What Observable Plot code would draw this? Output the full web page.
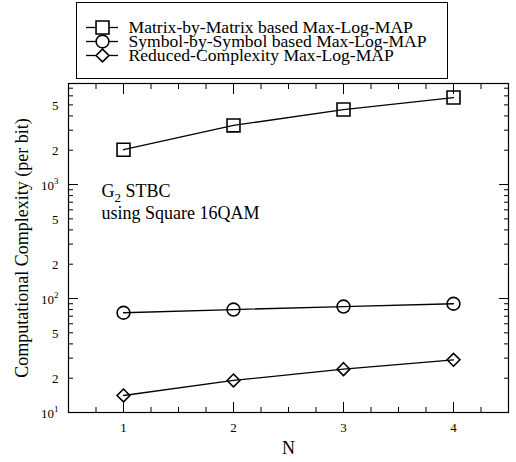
<!DOCTYPE html>
<html>
<head>
<meta charset="utf-8">
<script src="https://cdn.jsdelivr.net/npm/d3@7"></script>
<script src="https://cdn.jsdelivr.net/npm/@observablehq/plot@0.6"></script>
<style>
  html, body { margin: 0; padding: 0; background: #fff; }
  #wrap { position: relative; width: 516px; height: 462px; font-family: "Liberation Serif", "Times New Roman", serif; }
  #legend { position: absolute; left: 76px; top: 2px; width: 372px; height: 77px; border: 1px solid #000; box-sizing: border-box; background: #fff; }
  #chart { position: absolute; left: 0; top: 0; }
  svg { overflow: visible; }
</style>
</head>
<body>
<div id="wrap"><div id="chart"></div><div id="legend"></div></div>
<script>
// ---- data ----
const N = [1, 2, 3, 4];
const matrixByMatrix = [2020, 3300, 4550, 5800];
const symbolBySymbol = [75, 80, 85, 90];
const reducedComplexity = [14.1, 19.1, 24, 29];
const seriesNames = [
  "Matrix-by-Matrix based Max-Log-MAP",
  "Symbol-by-Symbol based Max-Log-MAP",
  "Reduced-Complexity Max-Log-MAP"
];
const seriesSymbols = ["square", "circle", "diamond2"];
const xMajorTicks = [1, 2, 3, 4];
const xMinorTicks = [0.75, 1.25, 1.5, 1.75, 2.25, 2.5, 2.75, 3.25, 3.5, 3.75, 4.25];
const yMajorTicks = [10, 100, 1000];
const yMinorTicks = [20, 30, 40, 50, 60, 70, 80, 90, 200, 300, 400, 500, 600, 700, 800, 900, 2000, 3000, 4000, 5000, 6000, 7000];
const yLabelTicks = [10, 20, 50, 100, 200, 500, 1000, 2000, 5000];
const yLabelText = ["10^1", "2", "5", "10^2", "2", "5", "10^3", "2", "5"];
const xLabel = "N";
const yLabel = "Computational Complexity (per bit)";
const annotationLines = ["G_2 STBC", "using Square 16QAM"];
const annotationN = 0.8;
const annotationValue = 720;

// ---- build rows ----
const seriesValues = [matrixByMatrix, symbolBySymbol, reducedComplexity];
const rows = seriesNames.flatMap((s, k) => N.map((n, i) => ({series: s, N: n, v: seriesValues[k][i]})));
const symbolR = {square: 7.3, circle: 6.4, diamond2: 5.8};

const FONT = '"Liberation Serif", "Times New Roman", serif';

const chart = Plot.plot({
  width: 516,
  height: 462,
  marginLeft: 68,
  marginRight: 8,
  marginTop: 83,
  marginBottom: 50,
  style: {fontFamily: FONT, fontSize: "13px", color: "#000", background: "transparent"},
  x: {domain: [0.5, 4.5]},
  y: {type: "log", domain: [10, 7700]},
  marks: [
    // inward ticks
    Plot.axisX(xMajorTicks, {anchor: "bottom", tickSize: -10, fill: "none", label: null, strokeWidth: 1}),
    Plot.axisX(xMinorTicks, {anchor: "bottom", tickSize: -5, fill: "none", label: null, strokeWidth: 1}),
    Plot.axisX(xMajorTicks, {anchor: "top", tickSize: -10, fill: "none", label: null, strokeWidth: 1}),
    Plot.axisX(xMinorTicks, {anchor: "top", tickSize: -5, fill: "none", label: null, strokeWidth: 1}),
    Plot.axisY(yMajorTicks, {anchor: "left", tickSize: -10, fill: "none", label: null, strokeWidth: 1}),
    Plot.axisY(yMinorTicks, {anchor: "left", tickSize: -5, fill: "none", label: null, strokeWidth: 1}),
    Plot.axisY(yMajorTicks, {anchor: "right", tickSize: -10, fill: "none", label: null, strokeWidth: 1}),
    Plot.axisY(yMinorTicks, {anchor: "right", tickSize: -5, fill: "none", label: null, strokeWidth: 1}),
    // tick labels
    Plot.text(xMajorTicks, {x: d => d, frameAnchor: "bottom", lineAnchor: "top", dy: 10, text: d => String(d), fontSize: 13, fill: "#000"}),
    Plot.text(yLabelTicks, {y: d => d, frameAnchor: "left", textAnchor: "end", dx: -10, dy: 1,
      text: (d, i) => yLabelText[i], fontSize: 13, fill: "#000", className: "ylab"}),
    Plot.frame({stroke: "#000", strokeWidth: 1.2}),
    // data
    Plot.line(rows, {x: "N", y: "v", z: "series", stroke: "#000", strokeWidth: 1.3}),
    ...seriesNames.map((s, k) => Plot.dot(rows.filter(d => d.series === s), {
      x: "N", y: "v", symbol: seriesSymbols[k], r: symbolR[seriesSymbols[k]],
      stroke: "#000", fill: "none", strokeWidth: 1.6
    })),
    // annotation
    Plot.text([annotationLines.join("\n")], {x: () => annotationN, y: () => annotationValue, textAnchor: "start",
      fontSize: 18, lineHeight: 1.2, fill: "#000", className: "annot"}),
    // axis titles
    Plot.text([yLabel], {frameAnchor: "left", textAnchor: "middle", lineAnchor: "middle", rotate: -90, dx: -46, fontSize: 18, fill: "#000"}),
    Plot.text([xLabel], {frameAnchor: "bottom", textAnchor: "middle", lineAnchor: "middle", dy: 36, fontSize: 18, fill: "#000"})
  ]
});

// render "a^b" as superscript and "a_b" as subscript using tspans
function richText(node, str, size) {
  const m = str.match(/^(.*?)([\^_])(\d)(.*)$/);
  if (!m) return;
  const [, pre, kind, digit, post] = m;
  const shift = kind === "^" ? -0.42 * size : 0.28 * size;
  const sel = d3.select(node);
  sel.text(null);
  sel.append("tspan").text(pre);
  sel.append("tspan").attr("dy", shift).attr("font-size", Math.round(size * 0.7)).text(digit);
  if (post) sel.append("tspan").attr("dy", -shift).text(post);
}
d3.select(chart).selectAll(".ylab text").each(function () { richText(this, this.textContent, 13); });
d3.select(chart).selectAll(".annot tspan").each(function () { richText(this, this.textContent, 18); });

document.getElementById("chart").appendChild(chart);

// ---- legend ----
const legend = Plot.plot({
  width: 370,
  height: 75,
  margin: 0,
  style: {fontFamily: FONT, fontSize: "18px", color: "#000", background: "transparent"},
  x: {type: "identity", axis: null},
  y: {type: "point", domain: seriesNames, range: [15.5, 59.5], axis: null},
  marks: [
    Plot.ruleY(seriesNames, {y: d => d, x1: 9, x2: 41, stroke: "#000", strokeWidth: 1.3}),
    ...seriesNames.map((s, k) => Plot.dot([s], {
      y: d => d, x: 25, symbol: seriesSymbols[k], r: symbolR[seriesSymbols[k]],
      stroke: "#000", fill: "#fff", strokeWidth: 1.6
    })),
    Plot.text(seriesNames, {y: d => d, x: 51, textAnchor: "start", fontSize: 17.6, fill: "#000"})
  ]
});
document.getElementById("legend").appendChild(legend);
</script>
</body>
</html>
